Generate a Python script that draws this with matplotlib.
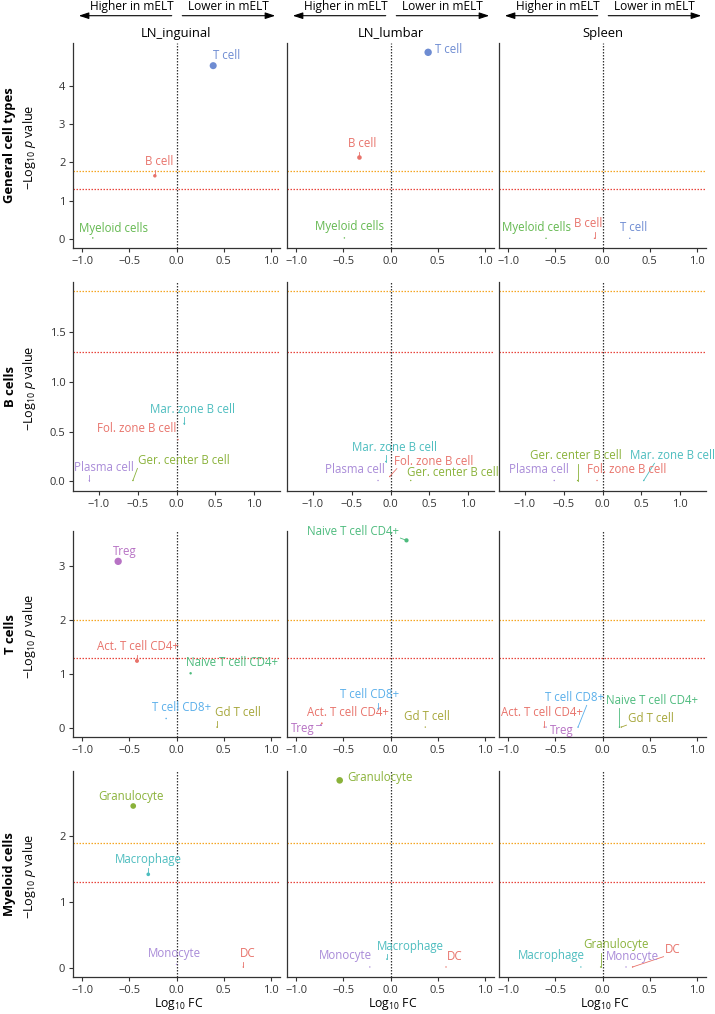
import numpy as np
import matplotlib
matplotlib.use("Agg")
import matplotlib.pyplot as plt
from matplotlib.patches import FancyArrowPatch

plt.rcParams["font.family"] = ["Open Sans", "DejaVu Sans"]
plt.rcParams["mathtext.fontset"] = "custom"
plt.rcParams["mathtext.rm"] = "Open Sans"
plt.rcParams["mathtext.it"] = "Open Sans:italic"
plt.rcParams["mathtext.bf"] = "Open Sans:bold"

# ─────────────────────────────────────────────────────────────────────────────
# Data: log10 fold change and -log10 p value, one inner list per tissue
# ─────────────────────────────────────────────────────────────────────────────
TISSUES = ["LN_inguinal", "LN_lumbar", "Spleen"]
GROUPS = ["General cell types", "B cells", "T cells", "Myeloid cells"]

GENERAL_TYPES = ["B cell", "Myeloid cells", "T cell"]
GENERAL_FC = [[-0.23, -0.89, 0.39], [-0.33, -0.49, 0.40], [-0.085, -0.60, 0.29]]
GENERAL_NLP = [[1.65, 0.02, 4.54], [2.13, 0.02, 4.89], [0.01, 0.01, 0.01]]

BCELL_TYPES = ["Fol. zone B cell", "Ger. center B cell", "Mar. zone B cell", "Plasma cell"]
BCELL_FC = [[0.02, -0.56, 0.10, -1.12], [-0.01, 0.26, -0.06, -0.16], [-0.07, -0.32, 0.53, -0.62]]
BCELL_NLP = [[0.42, 0.01, 0.58, 0.01], [0.05, 0.01, 0.20, 0.01], [0.01, 0.01, 0.01, 0.01]]

TCELL_TYPES = ["Act. T cell CD4+", "Gd T cell", "Naive T cell CD4+", "T cell CD8+", "Treg"]
TCELL_FC = [[-0.42, 0.43, 0.15, -0.11, -0.62], [-0.73, 0.37, 0.17, -0.13, -0.74],
            [-0.62, 0.20, 0.18, -0.26, -0.60]]
TCELL_NLP = [[1.24, 0.01, 1.01, 0.17, 3.09], [0.08, 0.01, 3.48, 0.35, 0.05],
             [0.01, 0.01, 0.01, 0.01, 0.01]]

MYELOID_TYPES = ["DC", "Granulocyte", "Macrophage", "Monocyte"]
MYELOID_FC = [[0.71, -0.46, -0.30, 0.0], [0.59, -0.54, -0.04, -0.22], [0.32, -0.02, -0.23, 0.25]]
MYELOID_NLP = [[0.01, 2.46, 1.42, 0.05], [0.01, 2.85, 0.13, 0.01], [0.01, 0.01, 0.01, 0.01]]

# ─────────────────────────────────────────────────────────────────────────────
# Styles / layout
# ─────────────────────────────────────────────────────────────────────────────
RED, OLIVE, CYAN, PURPLE = "#E8736B", "#8AB23A", "#4DBDBF", "#A98BD8"
COLORS = [
    [RED, "#63B84F", "#6E8CD2"],
    [RED, OLIVE, CYAN, PURPLE],
    [RED, "#A6A63A", "#4DBB7D", "#5AAFEA", "#B772C4"],
    [RED, OLIVE, CYAN, PURPLE],
]

# label offsets from point, in pixels (dx right, dy down)
LABEL_OFFSETS = [
    [[(4, -14), (21, -9), (13, -10)],
     [(3, -14), (5, -11), (20.6, -2.7)],
     [(-6.5, -14.7), (-9.5, -11.3), (4, -10.7)]],
    [[(-41.3, -10.7), (50.9, -20), (8, -14.4), (14.9, -13.4)],
     [(43.8, -15.5), (42.3, -8.4), (8.5, -14.3), (-23.6, -10.7)],
     [(29.5, -10.7), (-1.5, -25), (28.5, -25), (-15, -10.7)]],
    [[(0.5, -14), (21, -14.3), (41.8, -10.3), (15, -10.6), (7, -9.7)],
     [(25.8, -10.6), (1.5, -10.6), (-53.5, -9.3), (-8.3, -14), (-18.4, 4)],
     [(-2, -14.4), (29.5, -9), (32.6, -26.6), (-3.8, -29.6), (16, 3)]],
    [[(3.9, -13), (-1.8, -9.3), (0, -14.4), (-2, -10.7)],
     [(9.1, -10), (40, -3.3), (23.5, -13), (-24.7, -11.6)],
     [(40.2, -17.3), (15.2, -22.3), (-29, -11.3), (6.3, -10)]],
]
# segment start on the label box (fraction of box) where repel picked a slanted line
SEGMENT_ANCHORS = {(1, 2, 2): (0.3, 0.0), (2, 2, 3): (0.72, 0.0),
                   (1, 1, 0): (0.05, 0.0), (1, 1, 1): (0.04, 0.1)}

W, H = 715, 1014
COL_X = [73, 287, 499]
COL_W = 207
ROW_Y = [(43, 248), (282, 491), (531, 737), (771, 977)]
XLIMS = [(-1.1, 1.1), (-1.33, 1.33), (-1.1, 1.1), (-1.1, 1.1)]
YTICKS = [[0, 1, 2, 3, 4], [0.0, 0.5, 1.0, 1.5], [0, 1, 2, 3], [0, 1, 2]]
AX_COL = "#333333"
PX = 0.72  # pixels -> points at dpi 100
ARROW = "-|>,head_length=0.85,head_width=0.28"

ROWS = [
    (GENERAL_TYPES, GENERAL_FC, GENERAL_NLP),
    (BCELL_TYPES, BCELL_FC, BCELL_NLP),
    (TCELL_TYPES, TCELL_FC, TCELL_NLP),
    (MYELOID_TYPES, MYELOID_FC, MYELOID_NLP),
]


def fx(px):
    return px / W


def fy(py):
    return 1 - py / H


fig = plt.figure(figsize=(W / 100, H / 100), dpi=100)
placed = []  # (key, ax, text, xy, colour, marker radius px)

for r, (types, fcs, nlps) in enumerate(ROWS):
    y_bonf = -np.log10(0.05 / len(types))
    y_sig = -np.log10(0.05)
    top = max(max(max(v) for v in nlps), y_bonf)
    pad = 0.05 * top
    y0, y1 = ROW_Y[r]

    for c, tissue in enumerate(TISSUES):
        ax = fig.add_axes([fx(COL_X[c]), fy(y1), fx(COL_W), (y1 - y0) / H])
        ax.set_xlim(*XLIMS[r])
        ax.set_ylim(-pad, top + pad)
        ax.set_xticks([-1.0, -0.5, 0.0, 0.5, 1.0])
        ax.set_yticks(YTICKS[r])
        for s in ("top", "right"):
            ax.spines[s].set_visible(False)
        for s in ("left", "bottom"):
            ax.spines[s].set_color(AX_COL)
            ax.spines[s].set_linewidth(0.9)
        ax.tick_params(length=3, width=0.8, color=AX_COL, labelsize=8,
                       labelcolor=AX_COL, pad=2.5)
        if c > 0:
            ax.tick_params(axis="y", left=False, labelleft=False)

        ax.axhline(y_bonf, color="#F5A623", lw=0.9, ls=(0, (1.2, 1.2)), zorder=1)
        ax.axhline(y_sig, color="#E8453C", lw=0.9, ls=(0, (1.2, 1.2)), zorder=1)
        ax.axvline(0, color="#333333", lw=0.9, ls=(0, (1.2, 1.2)), zorder=1)

        fc = np.array(fcs[c])
        nlp = np.array(nlps[c])
        sizes = 1.0 + 14 * np.abs(fc) * nlp
        ax.scatter(fc, nlp, s=sizes, c=COLORS[r], linewidths=0, zorder=4)

        for i, name in enumerate(types):
            dx, dy = LABEL_OFFSETS[r][c][i]
            col = COLORS[r][i]
            t = ax.annotate(name, xy=(fc[i], nlp[i]), xytext=(dx * PX, -dy * PX),
                            textcoords="offset points", ha="center", va="center",
                            fontsize=8.3, color=col, annotation_clip=False, zorder=5)
            radius = np.sqrt(sizes[i]) / 2 / PX
            placed.append(((r, c, i), ax, t, (fc[i], nlp[i]), col, radius))

        if r == 0:
            cx = COL_X[c] + COL_W / 2
            fig.text(fx(cx), fy(33), tissue, ha="center", va="center", fontsize=9.4)
            # direction arrows
            left, right = COL_X[c] + 3, COL_X[c] + COL_W - 2
            fig.add_artist(FancyArrowPatch((fx(cx - 2), fy(15.7)), (fx(left), fy(15.7)),
                                           transform=fig.transFigure, arrowstyle=ARROW,
                                           mutation_scale=7, lw=0.8, color="black"))
            fig.add_artist(FancyArrowPatch((fx(cx + 3), fy(15.7)), (fx(right), fy(15.7)),
                                           transform=fig.transFigure, arrowstyle=ARROW,
                                           mutation_scale=7, lw=0.8, color="black"))
            fig.text(fx((cx + left) / 2 + 6), fy(10), "Higher in mELT",
                     ha="center", va="baseline", fontsize=8.6)
            fig.text(fx((cx + right) / 2 + 1), fy(10), "Lower in mELT",
                     ha="center", va="baseline", fontsize=8.6)

        if r == len(ROWS) - 1:
            fig.text(fx(COL_X[c] + COL_W / 2 + 2), fy(1004), r"Log$_{10}$ FC",
                     ha="center", va="center", fontsize=8.8)

    mid = (y0 + y1) / 2
    fig.text(fx(10), fy(mid), GROUPS[r], rotation=90, ha="center", va="center",
             fontsize=9.4, fontweight="bold")
    fig.text(fx(29), fy(mid + 2), r"$-$Log$_{10}$ $p$ value", rotation=90,
             ha="center", va="center", fontsize=9.1)

# segments from the label box to its point (ggrepel style)
fig.canvas.draw()
renderer = fig.canvas.get_renderer()
for key, ax, t, xy, col, radius in placed:
    bb = t.get_window_extent(renderer)
    px, py = ax.transData.transform(xy)
    if key in SEGMENT_ANCHORS:
        fxr, fyr = SEGMENT_ANCHORS[key]
        nx, ny = bb.x0 + fxr * bb.width, bb.y0 + fyr * bb.height
    else:
        nx = min(max(px, bb.x0), bb.x1)
        ny = min(max(py, bb.y0), bb.y1)
    dist = np.hypot(px - nx, py - ny)
    if dist - radius > 5:
        sx = nx + (px - nx) * 1.5 / dist
        sy = ny + (py - ny) * 1.5 / dist
        start = ax.transData.inverted().transform((sx, sy))
        ax.plot([start[0], xy[0]], [start[1], xy[1]], color=col, lw=0.6,
                zorder=3, clip_on=False)

fig.savefig("out.png", dpi=100)
